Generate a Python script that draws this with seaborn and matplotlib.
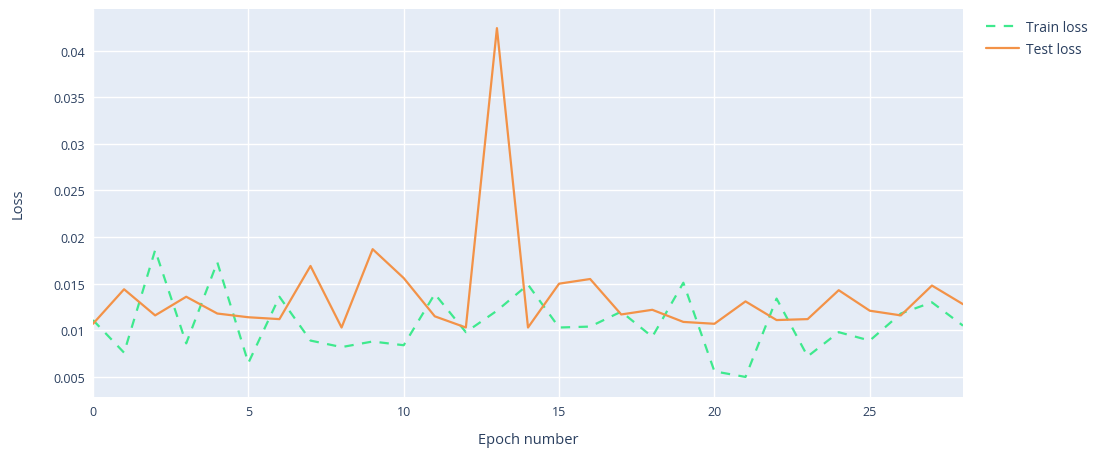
import numpy as np
import pandas as pd
import matplotlib
matplotlib.use("Agg")
import matplotlib.pyplot as plt
import seaborn as sns

# values
epochs = list(range(29))
train_loss = [0.0111, 0.0076, 0.0186, 0.0086, 0.0173, 0.0065, 0.0136, 0.0089, 0.0082, 0.0088,
              0.0084, 0.0139, 0.0098, 0.0121, 0.0149, 0.0103, 0.0104, 0.0120, 0.0093, 0.0151,
              0.0056, 0.0050, 0.0134, 0.0072, 0.0098, 0.0089, 0.0118, 0.0130, 0.0105]
test_loss = [0.0107, 0.0144, 0.0116, 0.0136, 0.0118, 0.0114, 0.0112, 0.0169, 0.0103, 0.0187,
             0.0156, 0.0115, 0.0103, 0.0424, 0.0103, 0.0150, 0.0155, 0.0117, 0.0122, 0.0109,
             0.0107, 0.0131, 0.0111, 0.0112, 0.0143, 0.0121, 0.0116, 0.0148, 0.0128]

df = pd.DataFrame({"epoch": epochs, "Train loss": train_loss, "Test loss": test_loss})

sns.set_theme(style="darkgrid", rc={
    "axes.facecolor": "#E5ECF6",
    "grid.color": "white",
    "grid.linewidth": 1.0,
    "axes.edgecolor": "#E5ECF6",
})
plt.rcParams["font.family"] = ["Open Sans", "DejaVu Sans"]
text_col = "#2a3f5f"

fig = plt.figure(figsize=(11.05, 4.52), dpi=100)
ax = fig.add_axes([93 / 1105, 1 - 398 / 452, 870 / 1105, 388 / 452])

sns.lineplot(data=df, x="epoch", y="Train loss", ax=ax, color="#3ee98d", lw=1.6,
             dashes=False, label="Train loss")
ax.lines[-1].set_dashes((4.2, 3.8))
sns.lineplot(data=df, x="epoch", y="Test loss", ax=ax, color="#f39247", lw=1.6,
             label="Test loss")

ax.set_xlim(0, 28)
ax.set_ylim(0.00285, 0.04445)
ax.set_xticks([0, 5, 10, 15, 20, 25])
yt = [0.005, 0.01, 0.015, 0.02, 0.025, 0.03, 0.035, 0.04]
ax.set_yticks(yt)
ax.set_yticklabels(["0.005", "0.01", "0.015", "0.02", "0.025", "0.03", "0.035", "0.04"])
ax.tick_params(axis="both", length=0, labelsize=9, labelcolor=text_col, pad=6)
ax.set_xlabel("Epoch number", fontsize=10.5, color=text_col, labelpad=10)
ax.set_ylabel("Loss", fontsize=10.5, color=text_col, labelpad=20)
for s in ax.spines.values():
    s.set_visible(False)

leg = ax.legend(loc="upper left", bbox_to_anchor=(1.012, 1.005), frameon=False,
                fontsize=10, handlelength=2.4, handletextpad=0.5, labelspacing=0.5)
for t in leg.get_texts():
    t.set_color(text_col)

fig.savefig("out.png", dpi=100, facecolor="white")
